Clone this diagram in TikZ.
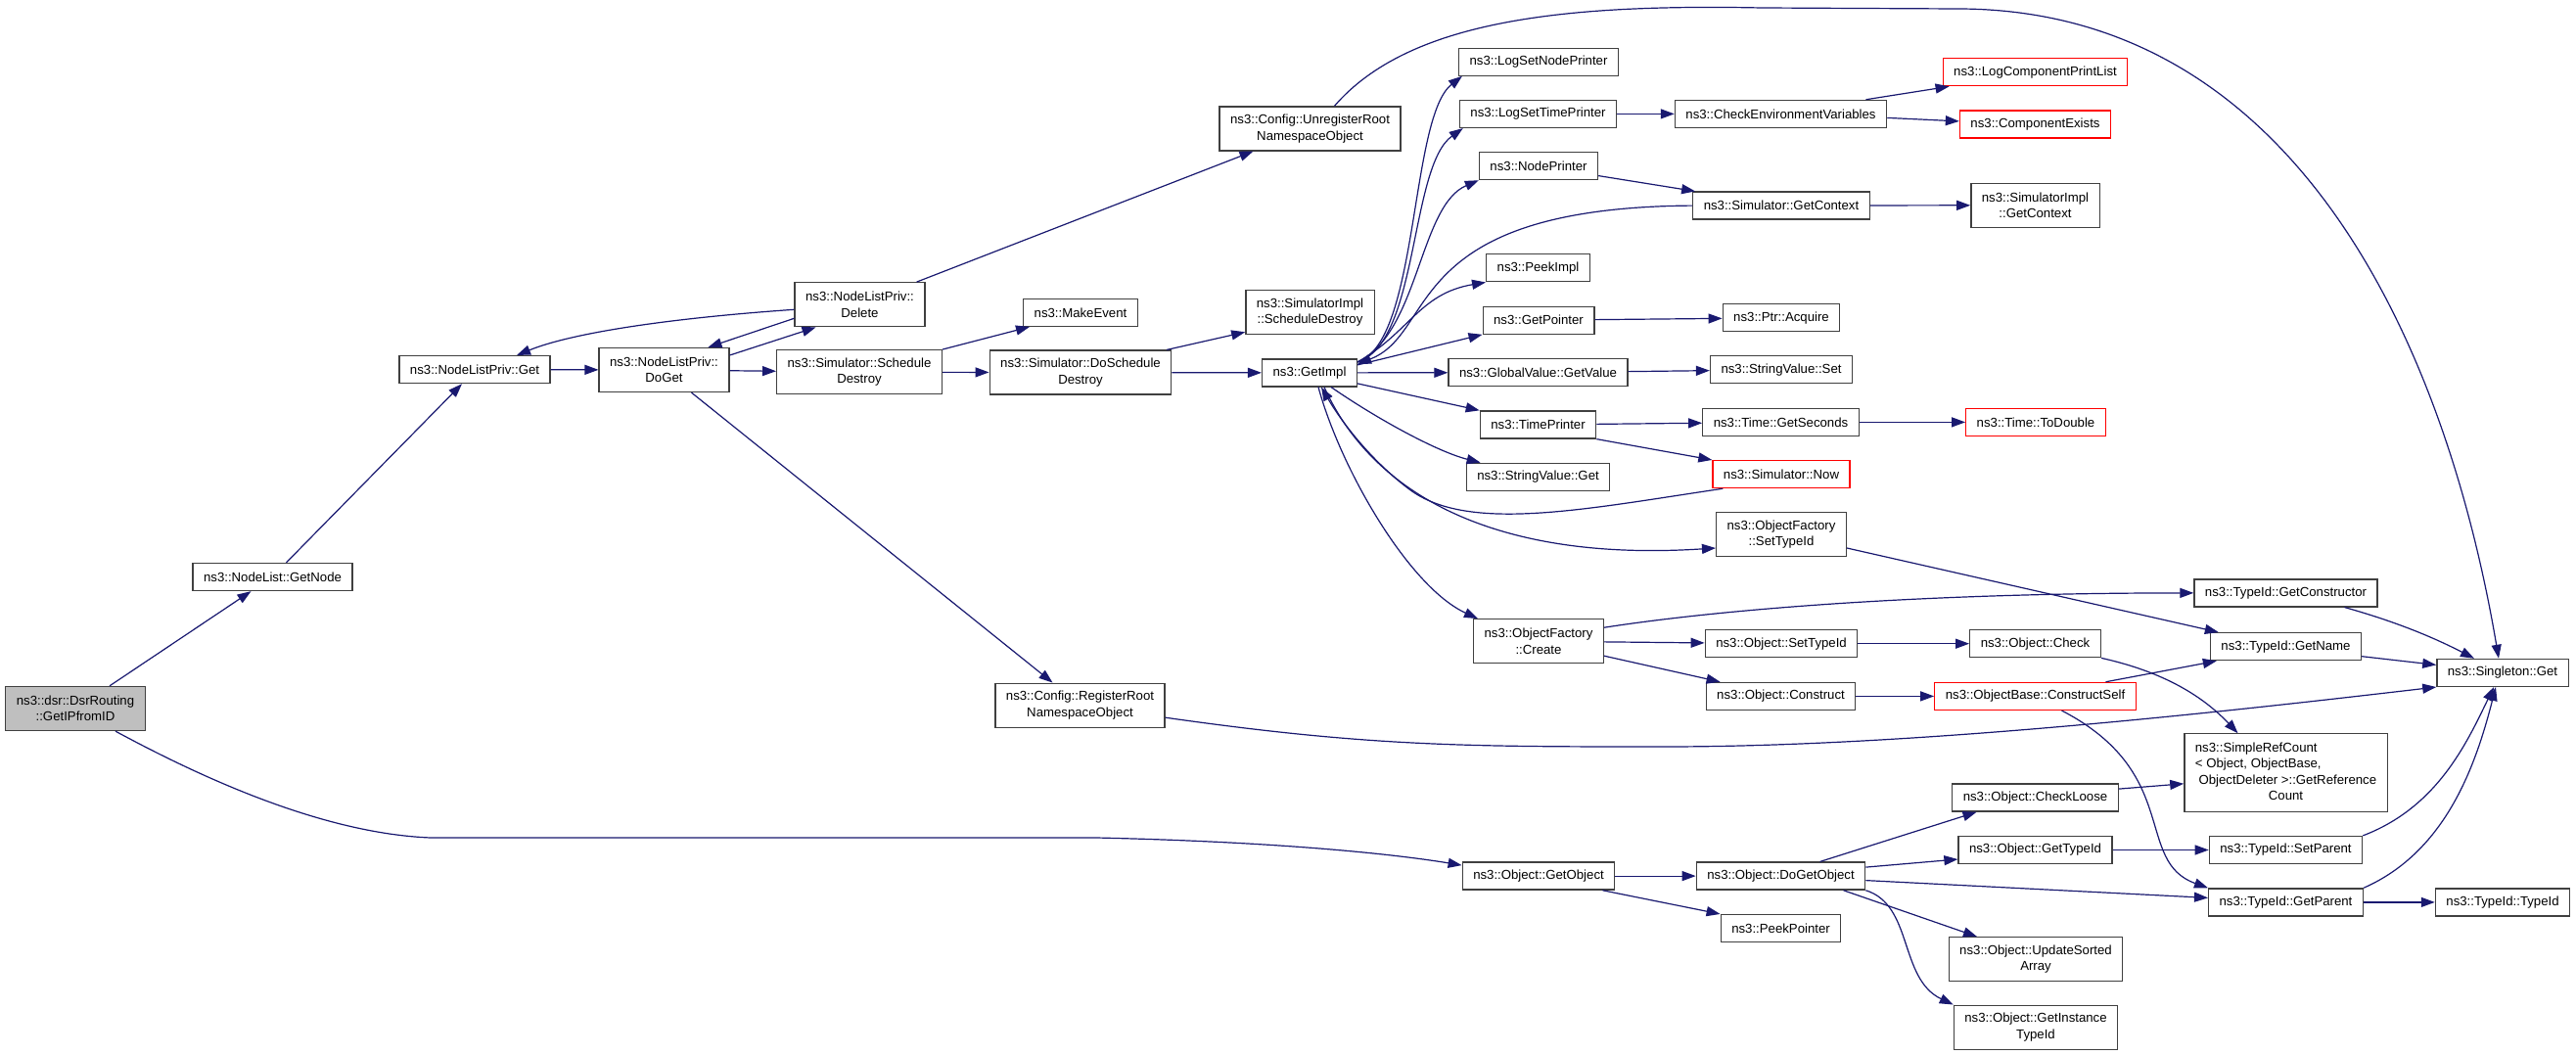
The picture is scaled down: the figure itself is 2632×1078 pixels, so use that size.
\documentclass[tikz,border=0pt]{standalone}
\usepackage{fontspec}
\setmainfont{Liberation Sans}
\usetikzlibrary{arrows.meta, calc}

\definecolor{edgeblue}{RGB}{25,25,112}

\begin{document}
\begin{tikzpicture}[
    x=1pt, y=-1pt,
    >={Triangle[length=14pt, width=10pt]},
    fnbox/.style={draw=black!75, line width=1.3pt, fill=white, rectangle,
        inner xsep=11pt, inner ysep=0pt, minimum height=28pt, align=center,
        font=\fontsize{13.2}{16.5}\selectfont},
    fnbox2/.style={fnbox, minimum height=45pt},
    truncated/.style={draw=red},
    rootfn/.style={fill=black!25},
    callarrow/.style={->, draw=edgeblue, line width=1.2pt}
]

% --- Page (pixel grid of the reference, y downwards) ---
\fill[white] (0,0) rectangle (2632,1078);
\useasboundingbox (0,0) rectangle (2632,1078);

% --- Root function ---
\node[fnbox2, rootfn] (ipfromid) at (77,724) {ns3::dsr::DsrRouting\\::GetIPfromID};

% --- NodeList chain ---
\node[fnbox] (getnode) at (278.5,589.5) {ns3::NodeList::GetNode};
\node[fnbox] (nlpget) at (485,377.6) {ns3::NodeListPriv::Get};
\node[fnbox2] (doget) at (678.5,378) {ns3::NodeListPriv::\\DoGet};
\node[fnbox2] (nldelete) at (878.5,311.3) {ns3::NodeListPriv::\\Delete};
\node[fnbox2] (schedule) at (878,380.2) {ns3::Simulator::Schedule\\Destroy};
\node[fnbox2] (unregister) at (1338.5,131.4) {ns3::Config::UnregisterRoot\\NamespaceObject};
\node[fnbox] (makeevent) at (1104,319.3) {ns3::MakeEvent};
\node[fnbox2] (doschedule) at (1104,380.6) {ns3::Simulator::DoSchedule\\Destroy};
\node[fnbox2] (registerroot) at (1103.5,720.7) {ns3::Config::RegisterRoot\\NamespaceObject};
\node[fnbox2] (implsched) at (1338.5,319.3) {ns3::SimulatorImpl\\::ScheduleDestroy};
\node[fnbox] (getimpl) at (1338,380.9) {ns3::GetImpl};

% --- Column called by GetImpl ---
\node[fnbox] (logsetnode) at (1572,63.2) {ns3::LogSetNodePrinter};
\node[fnbox] (logsettime) at (1571.5,116.4) {ns3::LogSetTimePrinter};
\node[fnbox] (nodeprinter) at (1572,169.6) {ns3::NodePrinter};
\node[fnbox] (peekimpl) at (1571.5,273.8) {ns3::PeekImpl};
\node[fnbox] (getpointer) at (1572,327.2) {ns3::GetPointer};
\node[fnbox] (getvalue) at (1571.5,380.7) {ns3::GlobalValue::GetValue};
\node[fnbox] (timeprinter) at (1571.5,434) {ns3::TimePrinter};
\node[fnbox] (strget) at (1571.5,487.3) {ns3::StringValue::Get};
\node[fnbox2] (create) at (1572,655.2) {ns3::ObjectFactory\\::Create};
\node[fnbox] (getobject) at (1572,895.1) {ns3::Object::GetObject};

% --- Next column ---
\node[fnbox] (checkenv) at (1819.5,116.4) {ns3::CheckEnvironmentVariables};
\node[fnbox] (simctx) at (1820,210.1) {ns3::Simulator::GetContext};
\node[fnbox] (acquire) at (1820,324.8) {ns3::Ptr::Acquire};
\node[fnbox] (strset) at (1820,377.8) {ns3::StringValue::Set};
\node[fnbox] (getseconds) at (1819.5,431.4) {ns3::Time::GetSeconds};
\node[fnbox, truncated] (simnow) at (1820,484.6) {ns3::Simulator::Now};
\node[fnbox2] (factsettype) at (1820,546) {ns3::ObjectFactory\\::SetTypeId};
\node[fnbox] (objsettype) at (1820,657.7) {ns3::Object::SetTypeId};
\node[fnbox] (construct) at (1819.5,711.4) {ns3::Object::Construct};
\node[fnbox] (dogetobject) at (1819.5,895.1) {ns3::Object::DoGetObject};
\node[fnbox] (peekpointer) at (1819.5,948.6) {ns3::PeekPointer};

% --- Next column ---
\node[fnbox, truncated] (logcomp) at (2079.5,73.7) {ns3::LogComponentPrintList};
\node[fnbox, truncated] (compexists) at (2079.5,126.9) {ns3::ComponentExists};
\node[fnbox2] (implctx) at (2079.5,209.7) {ns3::SimulatorImpl\\::GetContext};
\node[fnbox, truncated] (todouble) at (2080,431.4) {ns3::Time::ToDouble};
\node[fnbox] (check) at (2079.5,657.7) {ns3::Object::Check};
\node[fnbox, truncated] (constructself) at (2079.5,711.4) {ns3::ObjectBase::ConstructSelf};
\node[fnbox] (checkloose) at (2079.5,815.1) {ns3::Object::CheckLoose};
\node[fnbox] (objgettype) at (2079.5,868.5) {ns3::Object::GetTypeId};
\node[fnbox2] (updatesorted) at (2080,980.2) {ns3::Object::UpdateSorted\\Array};
\node[fnbox2] (getinstance) at (2080,1049.7) {ns3::Object::GetInstance\\TypeId};

% --- TypeId column ---
\node[fnbox] (getconstructor) at (2335.5,605.9) {ns3::TypeId::GetConstructor};
\node[fnbox] (getname) at (2335.5,660.7) {ns3::TypeId::GetName};
\node[fnbox, minimum height=80pt] (simpleref) at (2335.5,789.8)
    {\begin{tabular}{@{}l@{}}ns3::SimpleRefCount\\< Object, ObjectBase,\\\ ObjectDeleter >::GetReference\\\multicolumn{1}{@{}c@{}}{Count}\end{tabular}};
\node[fnbox] (setparent) at (2335.5,868.5) {ns3::TypeId::SetParent};
\node[fnbox] (getparent) at (2335.5,921.9) {ns3::TypeId::GetParent};

% --- Last column ---
\node[fnbox] (singleton) at (2557,687.4) {ns3::Singleton::Get};
\node[fnbox] (typeid) at (2557,921.9) {ns3::TypeId::TypeId};

% --- Calls from the root ---
\draw[callarrow] ($(ipfromid.north)+(35,0)$) -- ($(getnode.south)+(-22,0)$);
\draw[callarrow] ($(ipfromid.south)+(41,0)$) .. controls (225,805) and (340,852) .. (440,856)
    -- (1120,856) .. controls (1300,860) and (1420,872) .. ($(getobject.west)+(0,-11)$);

% --- NodeList chain ---
\draw[callarrow] ($(getnode.north)+(14,0)$) -- ($(nlpget.south)+(-13,0)$);
\draw[callarrow] (nlpget) -- (doget);
\draw[callarrow] ($(nldelete.west)+(0,5)$) .. controls (700,324) and (590,338) .. ($(nlpget.north)+(43,0)$);
\draw[callarrow] ($(doget.east)+(0,-15)$) -- ($(nldelete.south)+(-45,0)$);
\draw[callarrow] ($(nldelete.west)+(0,14)$) -- ($(doget.north)+(45,0)$);
\draw[callarrow] (doget) -- (schedule);
\draw[callarrow] ($(doget.south)+(28,0)$) -- ($(registerroot.north)+(-28,0)$);
\draw[callarrow] ($(nldelete.north)+(58,0)$) -- ($(unregister.south)+(-58,0)$);
\draw[callarrow] ($(unregister.north)+(25,0)$) .. controls (1440,20) and (1600,4) .. (1800,8)
    -- (2000,9) .. controls (2350,9) and (2500,360) .. ($(singleton.north)+(-4,0)$);

% --- Schedule destroy ---
\draw[callarrow] (schedule.north east) -- ($(makeevent.south)+(-52,0)$);
\draw[callarrow] (schedule) -- (doschedule);
\draw[callarrow] ($(doschedule.north)+(88,0)$) -- ($(implsched.west)+(0,20)$);
\draw[callarrow] (doschedule) -- (getimpl);

% --- GetImpl fan ---
\draw[callarrow] ($(getimpl.east)+(0,-11)$) .. controls (1450,350) and (1440,120) .. ($(logsetnode.south west)+(4,0)$);
\draw[callarrow] ($(getimpl.east)+(0,-11)$) .. controls (1450,350) and (1440,170) .. ($(logsettime.south west)+(4,0)$);
\draw[callarrow] ($(getimpl.east)+(0,-11)$) .. controls (1450,340) and (1450,210) .. (nodeprinter.south west);
\draw[callarrow] ($(getimpl.east)+(0,-11)$) .. controls (1440,340) and (1450,300) .. (peekimpl.south west);
\draw[callarrow] (simctx.west) .. controls (1430,212) and (1470,340) .. ($(getimpl.east)+(0,-9)$);
\draw[callarrow] ($(getimpl.east)+(0,-8)$) -- (getpointer.south west);
\draw[callarrow] (getimpl) -- (getvalue);
\draw[callarrow] ($(getimpl.east)+(0,11)$) -- (timeprinter.north west);
\draw[callarrow] ($(getimpl.south)+(22,0)$) .. controls (1410,430) and (1470,462) .. ($(strget.north west)+(15,0)$);
\draw[callarrow] ($(simnow.south west)+(11,0)$) .. controls (1620,520) and (1500,545) .. (1440,500)
    .. controls (1400,470) and (1370,430) .. ($(getimpl.south)+(12,0)$);
\draw[callarrow] ($(getimpl.south)+(9,0)$) .. controls (1370,480) and (1440,600) .. ($(create.north west)+(5,0)$);
\draw[callarrow] ($(getimpl.south)+(15,0)$) .. controls (1400,500) and (1520,575) .. ($(factsettype.west)+(0,14)$);

% --- Logging and time ---
\draw[callarrow] (logsettime) -- (checkenv);
\draw[callarrow] ($(checkenv.north)+(87,0)$) -- ($(logcomp.south west)+(7,0)$);
\draw[callarrow] ($(checkenv.east)+(0,4)$) -- ($(compexists.west)+(0,-3)$);
\draw[callarrow] ($(nodeprinter.east)+(0,10)$) -- ($(simctx.north west)+(3,0)$);
\draw[callarrow] (simctx) -- (implctx);
\draw[callarrow] (getpointer) -- (acquire);
\draw[callarrow] (getvalue) -- (strset);
\draw[callarrow] (timeprinter) -- (getseconds);
\draw[callarrow] (timeprinter.south east) -- (simnow.north west);
\draw[callarrow] (getseconds) -- (todouble);

% --- Object factory ---
\draw[callarrow] ($(factsettype.east)+(0,14)$) -- ($(getname.north west)+(9,0)$);
\draw[callarrow] ($(create.east)+(0,-14)$) .. controls (1750,624) and (1950,606) .. (getconstructor.west);
\draw[callarrow] (create) -- (objsettype);
\draw[callarrow] ($(create.east)+(0,15)$) -- ($(construct.north west)+(15,0)$);
\draw[callarrow] (objsettype) -- (check);
\draw[callarrow] (construct) -- (constructself);
\draw[callarrow] (check.south east) .. controls (2190,682) and (2240,700) .. ($(simpleref.north)+(-49,0)$);
\draw[callarrow] ($(constructself.north)+(72,0)$) -- ($(getname.south west)+(7,0)$);
\draw[callarrow] ($(constructself.south)+(27,0)$) .. controls (2230,790) and (2180,880) .. (getparent.north west);
\draw[callarrow] ($(registerroot.east)+(0,12.5)$) .. controls (1400,763) and (1500,763) .. (1700,763)
    .. controls (1950,763) and (2250,730) .. (singleton.south west);

% --- GetObject ---
\draw[callarrow] (getobject) -- (dogetobject);
\draw[callarrow] ($(getobject.south east)+(-13,0)$) -- (peekpointer.north west);
\draw[callarrow] ($(dogetobject.north)+(40,0)$) -- ($(checkloose.south)+(-60,0)$);
\draw[callarrow] ($(dogetobject.east)+(0,-9)$) -- ($(objgettype.west)+(0,9.5)$);
\draw[callarrow] ($(dogetobject.east)+(0,4.5)$) -- ($(getparent.west)+(0,-4.5)$);
\draw[callarrow] ($(dogetobject.south)+(64,0)$) -- ($(updatesorted.north)+(-60,0)$);
\draw[callarrow] (dogetobject.south east) .. controls (1955,925) and (1940,1000) .. (getinstance.north west);
\draw[callarrow] ($(checkloose.east)+(0,-9)$) -- ($(simpleref.west)+(0,11)$);
\draw[callarrow] (objgettype) -- (setparent);

% --- TypeId to Singleton ---
\draw[callarrow] ($(getconstructor.south)+(60,0)$) .. controls (2440,633) and (2480,648) .. ($(singleton.north)+(-29,0)$);
\draw[callarrow] ($(getname.east)+(0,10)$) -- ($(singleton.west)+(0,-8)$);
\draw[callarrow] (setparent.north east) .. controls (2490,825) and (2520,760) .. ($(singleton.south)+(-9,0)$);
\draw[callarrow] (getparent.north east) .. controls (2500,870) and (2530,780) .. ($(singleton.south)+(-7,0)$);
\draw[callarrow] (getparent) -- (typeid);

\end{tikzpicture}
\end{document}
